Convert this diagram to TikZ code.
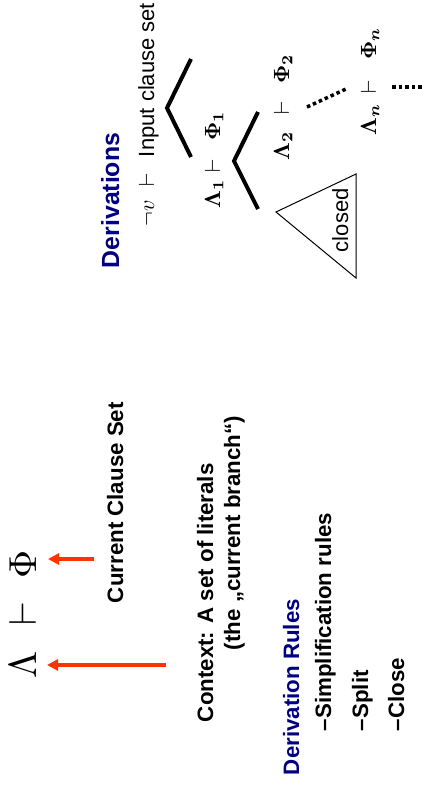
\documentclass[tikz,border=0pt]{standalone}
\usepackage{amsmath}
\usepackage[no-math]{fontspec}
\setmainfont{Liberation Sans}
\usetikzlibrary{arrows.meta}
\definecolor{navyhead}{RGB}{0,0,128}
\definecolor{arrowred}{RGB}{255,51,0}
\begin{document}
\begin{tikzpicture}[x=1pt,y=-1pt,
  rot/.style={rotate=90,inner sep=0pt,outer sep=0pt},
  lbl/.style={rot,anchor=base west,font=\fontsize{22.3}{26}\selectfont\bfseries},
  head/.style={lbl,text=navyhead},
  plain/.style={rot,anchor=base west,font=\fontsize{22}{26}\selectfont},
  bigm/.style={rot,anchor=base,font=\fontsize{10}{12}\selectfont,scale=3.9},
  treem/.style={rot,anchor=base,font=\fontsize{10}{12}\selectfont,scale=2.2},
  redarrow/.style={draw=arrowred,line width=3.3pt,-{Triangle[length=11pt,width=11pt]}},
  branch/.style={line width=4pt},
  dotline/.style={line width=3.5pt,dash pattern=on 3.5pt off 3pt},
]
\useasboundingbox (0,0) rectangle (429,787);

% formula Lambda |- Phi
\node[bigm] (lam) at (36,664.5) {$\Lambda$};
\node[bigm] (vd) at (36,614) {$\vdash$};
\node[bigm] (phi) at (36,564) {$\Phi$};

% labels
\node[lbl] (ccs) at (123,603) {Current Clause Set};
\node[lbl] (ctx1) at (213,722) {Context: A set of literals};
\node[lbl] (ctx2) at (240,650) {(the „current branch“)};
\node[head] (drules) at (299,775) {Derivation Rules};
\node[lbl] (r1) at (331,731) {–Simplification rules};
\node[lbl] (r2) at (368,731) {–Split};
\node[lbl] (r3) at (404,731) {–Close};

% arrows
\coordinate (a1s) at (166,665);
\coordinate (a1e) at (47,665);
\coordinate (a2s) at (94,559);
\coordinate (a2e) at (48,559);
\draw[redarrow] (a1s) -- (a1e);
\draw[redarrow] (a2s) -- (a2e);

% derivations
\node[head,font=\fontsize{24.8}{28}\selectfont\bfseries] (deriv) at (119,268) {Derivations};

\node[treem] (n0) at (154,213) {$\neg v$};
\node[treem] (t0) at (154,180) {$\vdash$};
\node[plain] (ics) at (154,157) {Input clause set};

\node[treem] (l1) at (220,194) {$\mathbf{\Lambda}_{\mathbf{1}}$};
\node[treem] (t1) at (220,166) {$\vdash$};
\node[treem] (p1) at (220,126) {$\mathbf{\Phi}_{\mathbf{1}}$};

\node[treem] (l2) at (289,146) {$\mathbf{\Lambda}_{\mathbf{2}}$};
\node[treem] (t2) at (289,108) {$\vdash$};
\node[treem] (p2) at (289,69) {$\mathbf{\Phi}_{\mathbf{2}}$};

\node[treem] (ln) at (376,119.5) {$\mathbf{\Lambda}_{\boldsymbol{n}}$};
\node[treem] (tn) at (376,87) {$\vdash$};
\node[treem] (pn) at (376,43.5) {$\mathbf{\Phi}_{\boldsymbol{n}}$};

% branches
\coordinate (b1a) at (191,59);
\coordinate (b1m) at (167,108);
\coordinate (b1b) at (191,157);
\coordinate (b2a) at (258,112);
\coordinate (b2m) at (234,161);
\coordinate (b2b) at (258,209);
\draw[branch] (b1a) -- (b1m) -- (b1b);
\draw[branch] (b2a) -- (b2m) -- (b2b);

\coordinate (d1a) at (307,107);
\coordinate (d1b) at (346,89);
\draw[dotline] (d1a) -- (d1b);
\coordinate (d2a) at (392,87);
\coordinate (d2b) at (424,87);
\draw[dotline] (d2a) -- (d2b);

% closed triangle
\coordinate (tra) at (276,212);
\coordinate (trb) at (356,174);
\coordinate (trc) at (356,278);
\draw[line width=1pt] (tra) -- (trb) -- (trc) -- cycle;
\node[plain] (cl) at (348,252) {closed};
\end{tikzpicture}
\end{document}
